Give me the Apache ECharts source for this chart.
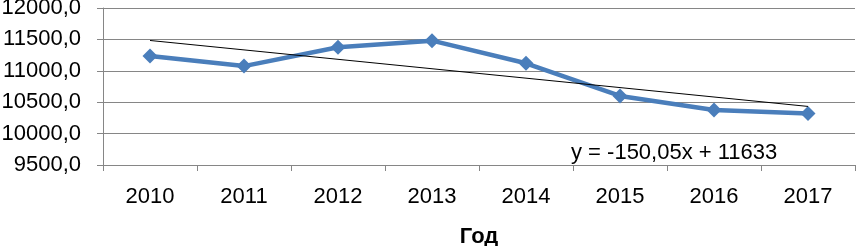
<!DOCTYPE html>
<html><head><meta charset="utf-8">
<script src="https://cdn.jsdelivr.net/npm/echarts@6/dist/echarts.min.js"></script>
<style>html,body{margin:0;padding:0;background:#fff}#c{width:856px;height:246px}</style>
</head><body><div id="c"></div>
<script>
const years = ['2010','2011','2012','2013','2014','2015','2016','2017'];
const values = [11235, 11075, 11375, 11480, 11120, 10600, 10375, 10320];
const trendSlope = -150.05;
const trendIntercept = 11633;
const trendLabel = 'y = -150,05x + 11633';
const yTicks = [9500, 10000, 10500, 11000, 11500, 12000];
const xTitle = 'Год';

const trend = years.map((y, i) => +(trendSlope * (i + 1) + trendIntercept).toFixed(2));
const font = 'Liberation Sans';
const chart = echarts.init(document.getElementById('c'), null, {renderer: 'canvas'});
chart.setOption({
  animation: false,
  grid: {left: 103, right: 1, top: 8, bottom: 81, containLabel: false, outerBoundsMode: 'none'},
  xAxis: {
    type: 'category', data: years, boundaryGap: true,
    name: xTitle, nameLocation: 'middle', nameGap: 61,
    nameTextStyle: {fontFamily: font, fontSize: 22, fontWeight: 'bold', color: '#000'},
    axisLine: {lineStyle: {color: '#868686', width: 1}},
    axisTick: {show: true, length: 6, lineStyle: {color: '#868686'}, alignWithLabel: false},
    axisLabel: {fontFamily: font, fontSize: 22, color: '#000', margin: 21}
  },
  yAxis: {
    type: 'value', min: yTicks[0], max: yTicks[yTicks.length - 1], interval: 500,
    axisLine: {show: true, lineStyle: {color: '#868686', width: 1}},
    axisTick: {show: true, length: 6, lineStyle: {color: '#868686'}},
    splitLine: {lineStyle: {color: '#868686', width: 1}},
    axisLabel: {fontFamily: font, fontSize: 22, color: '#000', margin: 22,
      formatter: v => v.toFixed(1).replace('.', ',')}
  },
  series: [
    {type: 'line', data: trend, symbol: 'none', z: 3,
      lineStyle: {color: '#000', width: 1}},
    {type: 'line', data: values, symbol: 'diamond', symbolSize: 15, z: 2,
      itemStyle: {color: '#4a7ebb'}, lineStyle: {color: '#4a7ebb', width: 4.5}}
  ],
  graphic: [{type: 'text', left: 571, top: 142,
    style: {text: trendLabel, fontFamily: font, fontSize: 22, fill: '#000'}}]
});
</script></body></html>
